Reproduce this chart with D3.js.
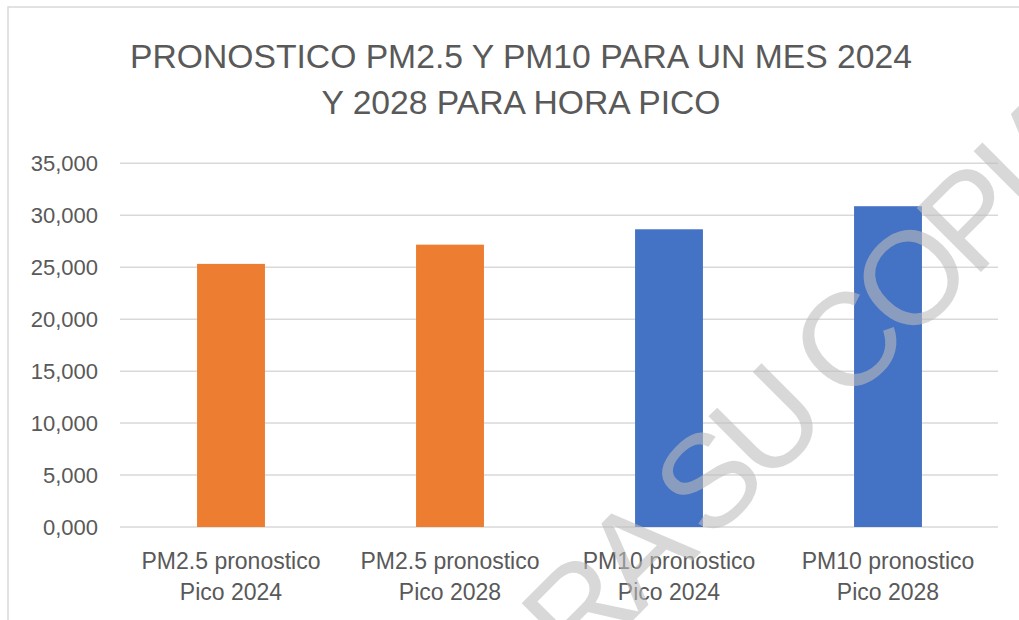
<!DOCTYPE html>
<html>
<head>
<meta charset="utf-8">
<script src="https://cdn.jsdelivr.net/npm/d3@7"></script>
<style>
  body { margin: 0; background: #fff; }
  svg { display: block; }
</style>
</head>
<body>
<script>
// data
var categories = ["PM2.5 pronostico\nPico 2024", "PM2.5 pronostico\nPico 2028",
                  "PM10 pronostico\nPico 2024", "PM10 pronostico\nPico 2028"];
var values = [25.32, 27.17, 28.65, 30.87];
var barColors = ["#ED7D31", "#ED7D31", "#4472C4", "#4472C4"];
var yTicks = [0, 5, 10, 15, 20, 25, 30, 35];
var titleLines = ["PRONOSTICO PM2.5 Y PM10 PARA UN MES 2024", "Y 2028 PARA HORA PICO"];
var watermark = "PARA SU COPIA";

var w = 1019, h = 620;
var font = "'Liberation Sans', Arial, sans-serif";
var grey = "#595959";

var svg = d3.select("body").append("svg")
    .attr("width", w)
    .attr("height", h);

svg.append("rect")
    .attr("width", w).attr("height", h)
    .attr("fill", "#fff");

// chart border
svg.append("rect")
    .attr("x", 8).attr("y", 7)
    .attr("width", w + 20).attr("height", h + 20)
    .attr("fill", "none")
    .attr("stroke", "#d9d9d9")
    .attr("stroke-width", 1.5);

//scales
var x = d3.scaleBand()
    .domain(categories)
    .range([121.5, 997.5])
    .paddingInner(0.69)
    .paddingOuter(0.345);

var y = d3.scaleLinear()
    .domain([0, 35])
    .range([527, 163.3]);

var fmt = d3.formatLocale({decimal: ",", thousands: ".", grouping: [3], currency: ["", ""]}).format(".3f");

// gridlines
svg.append("g")
    .selectAll("line")
    .data(yTicks)
    .enter()
    .append("line")
    .attr("x1", 120).attr("x2", 998)
    .attr("y1", function(d) { return y(d); })
    .attr("y2", function(d) { return y(d); })
    .attr("stroke", "#d9d9d9")
    .attr("stroke-width", 1.5);

// y axis labels
var yAxis = svg.append("g")
    .attr("transform", "translate(98,0)")
    .call(d3.axisLeft(y).tickValues(yTicks).tickFormat(fmt).tickSize(0).tickPadding(0));
yAxis.select(".domain").remove();
yAxis.selectAll("text")
    .attr("fill", grey)
    .style("font-family", font)
    .style("font-size", "22px");

// bars
svg.append("g")
    .selectAll("rect")
    .data(values)
    .enter()
    .append("rect")
    .attr("x", function(d, i) { return x(categories[i]); })
    .attr("y", function(d) { return y(d); })
    .attr("width", x.bandwidth())
    .attr("height", function(d) { return y(0) - y(d); })
    .attr("fill", function(d, i) { return barColors[i]; });

// category labels
var xAxis = svg.append("g")
    .attr("transform", "translate(0," + y(0) + ")")
    .call(d3.axisBottom(x).tickSize(0).tickFormat(""));
xAxis.select(".domain").remove();
xAxis.selectAll(".tick").append("text")
    .attr("fill", grey)
    .attr("text-anchor", "middle")
    .style("font-family", font)
    .style("font-size", "23px")
    .selectAll("tspan")
    .data(function(d) { return d.split("\n"); })
    .enter()
    .append("tspan")
    .attr("x", 0)
    .attr("y", function(d, i) { return 42 + i * 31; })
    .text(function(d) { return d; });

// title
var title = svg.append("g")
    .attr("fill", grey)
    .style("font-family", font);
var t1 = title.append("text")
    .attr("x", 521).attr("y", 68)
    .attr("text-anchor", "middle")
    .style("font-size", "36px")
    .text(titleLines[0]);
var fs = 36 * 782 / t1.node().getComputedTextLength();
t1.style("font-size", fs + "px");
title.append("text")
    .attr("x", 521).attr("y", 114)
    .attr("text-anchor", "middle")
    .style("font-size", fs + "px")
    .text(titleLines[1]);

// watermark
var wmSize = 132;
var wm = svg.append("g");
var wmText = wm.append("text")
    .attr("x", 0).attr("y", 0)
    .attr("fill", "#bdbdbd")
    .attr("opacity", 0.58)
    .style("font-family", font)
    .style("font-size", wmSize + "px")
    .style("letter-spacing", "-9px")
    .text(watermark);
var ext = wmText.node().getExtentOfChar(watermark.indexOf("C"));
var cx = ext.x + ext.width / 2, cy = -0.36 * wmSize;
wm.attr("transform", "translate(843,343) rotate(-45) translate(" + (-cx) + "," + (-cy) + ")");
</script>
</body>
</html>
